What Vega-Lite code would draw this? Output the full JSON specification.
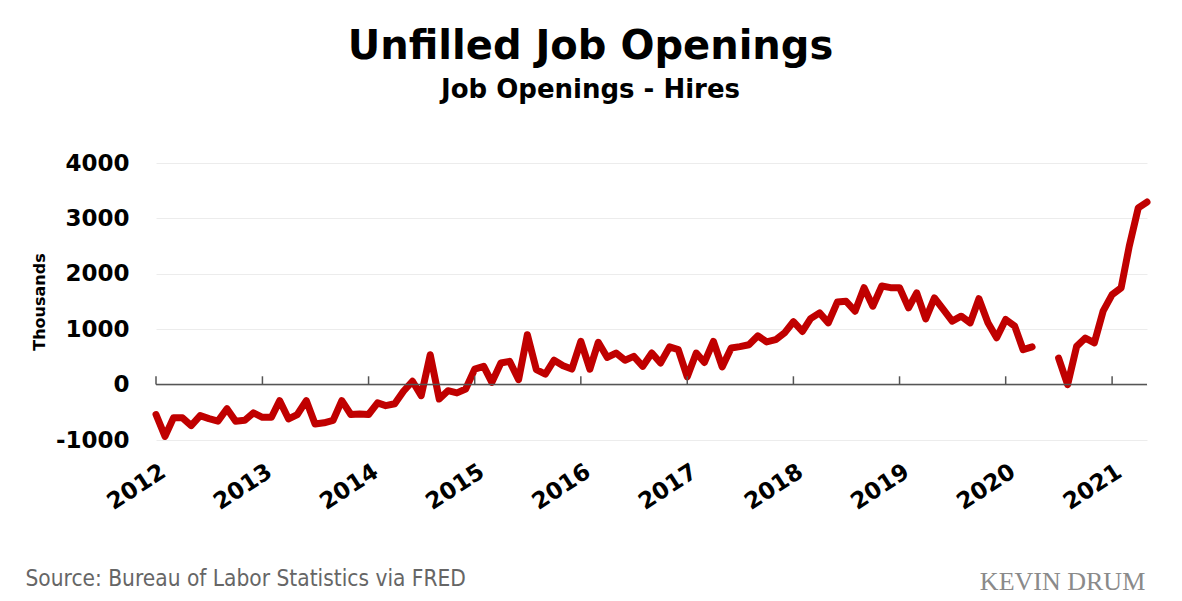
{
  "$schema": "https://vega.github.io/schema/vega-lite/v6.json",
  "width": 991,
  "height": 277,
  "autosize": "none",
  "padding": {"left": 156, "top": 163, "right": 35, "bottom": 161},
  "background": "white",
  "title": {
    "text": "Unfilled Job Openings",
    "subtitle": "Job Openings - Hires",
    "anchor": "middle",
    "dx": -61,
    "offset": 49,
    "font": "DejaVu Sans",
    "fontSize": 40,
    "fontWeight": "bold",
    "color": "#000000",
    "subtitleFont": "DejaVu Sans",
    "subtitleFontSize": 26,
    "subtitleFontWeight": "bold",
    "subtitleColor": "#000000",
    "subtitlePadding": 10
  },
  "datasets": {
    "jobs": [
      {"date": "2012-01-01", "value": -540}, {"date": "2012-02-01", "value": -935}, {"date": "2012-03-01", "value": -600}, {"date": "2012-04-01", "value": -600},
      {"date": "2012-05-01", "value": -740}, {"date": "2012-06-01", "value": -560}, {"date": "2012-07-01", "value": -615}, {"date": "2012-08-01", "value": -660},
      {"date": "2012-09-01", "value": -435}, {"date": "2012-10-01", "value": -660}, {"date": "2012-11-01", "value": -645}, {"date": "2012-12-01", "value": -510},
      {"date": "2013-01-01", "value": -590}, {"date": "2013-02-01", "value": -590}, {"date": "2013-03-01", "value": -290}, {"date": "2013-04-01", "value": -620},
      {"date": "2013-05-01", "value": -540}, {"date": "2013-06-01", "value": -290}, {"date": "2013-07-01", "value": -710}, {"date": "2013-08-01", "value": -690},
      {"date": "2013-09-01", "value": -645}, {"date": "2013-10-01", "value": -290}, {"date": "2013-11-01", "value": -540}, {"date": "2013-12-01", "value": -530},
      {"date": "2014-01-01", "value": -540}, {"date": "2014-02-01", "value": -330}, {"date": "2014-03-01", "value": -380}, {"date": "2014-04-01", "value": -345},
      {"date": "2014-05-01", "value": -120}, {"date": "2014-06-01", "value": 60}, {"date": "2014-07-01", "value": -200}, {"date": "2014-08-01", "value": 540},
      {"date": "2014-09-01", "value": -260}, {"date": "2014-10-01", "value": -110}, {"date": "2014-11-01", "value": -150}, {"date": "2014-12-01", "value": -80},
      {"date": "2015-01-01", "value": 280}, {"date": "2015-02-01", "value": 330}, {"date": "2015-03-01", "value": 40}, {"date": "2015-04-01", "value": 390},
      {"date": "2015-05-01", "value": 420}, {"date": "2015-06-01", "value": 90}, {"date": "2015-07-01", "value": 900}, {"date": "2015-08-01", "value": 270},
      {"date": "2015-09-01", "value": 190}, {"date": "2015-10-01", "value": 440}, {"date": "2015-11-01", "value": 340}, {"date": "2015-12-01", "value": 280},
      {"date": "2016-01-01", "value": 780}, {"date": "2016-02-01", "value": 280}, {"date": "2016-03-01", "value": 765}, {"date": "2016-04-01", "value": 490},
      {"date": "2016-05-01", "value": 570}, {"date": "2016-06-01", "value": 440}, {"date": "2016-07-01", "value": 510}, {"date": "2016-08-01", "value": 330},
      {"date": "2016-09-01", "value": 570}, {"date": "2016-10-01", "value": 390}, {"date": "2016-11-01", "value": 680}, {"date": "2016-12-01", "value": 630},
      {"date": "2017-01-01", "value": 140}, {"date": "2017-02-01", "value": 570}, {"date": "2017-03-01", "value": 400}, {"date": "2017-04-01", "value": 780},
      {"date": "2017-05-01", "value": 320}, {"date": "2017-06-01", "value": 660}, {"date": "2017-07-01", "value": 685}, {"date": "2017-08-01", "value": 720},
      {"date": "2017-09-01", "value": 880}, {"date": "2017-10-01", "value": 770}, {"date": "2017-11-01", "value": 810}, {"date": "2017-12-01", "value": 930},
      {"date": "2018-01-01", "value": 1135}, {"date": "2018-02-01", "value": 960}, {"date": "2018-03-01", "value": 1190}, {"date": "2018-04-01", "value": 1295},
      {"date": "2018-05-01", "value": 1115}, {"date": "2018-06-01", "value": 1490}, {"date": "2018-07-01", "value": 1505}, {"date": "2018-08-01", "value": 1325},
      {"date": "2018-09-01", "value": 1750}, {"date": "2018-10-01", "value": 1415}, {"date": "2018-11-01", "value": 1780}, {"date": "2018-12-01", "value": 1750},
      {"date": "2019-01-01", "value": 1750}, {"date": "2019-02-01", "value": 1385}, {"date": "2019-03-01", "value": 1655}, {"date": "2019-04-01", "value": 1185},
      {"date": "2019-05-01", "value": 1565}, {"date": "2019-06-01", "value": 1355}, {"date": "2019-07-01", "value": 1145}, {"date": "2019-08-01", "value": 1235},
      {"date": "2019-09-01", "value": 1115}, {"date": "2019-10-01", "value": 1550}, {"date": "2019-11-01", "value": 1115}, {"date": "2019-12-01", "value": 845},
      {"date": "2020-01-01", "value": 1175}, {"date": "2020-02-01", "value": 1055}, {"date": "2020-03-01", "value": 630}, {"date": "2020-04-01", "value": 680},
      {"date": "2020-05-01", "value": null}, {"date": "2020-06-01", "value": null}, {"date": "2020-07-01", "value": 480}, {"date": "2020-08-01", "value": 0},
      {"date": "2020-09-01", "value": 690}, {"date": "2020-10-01", "value": 840}, {"date": "2020-11-01", "value": 755}, {"date": "2020-12-01", "value": 1325},
      {"date": "2021-01-01", "value": 1625}, {"date": "2021-02-01", "value": 1745}, {"date": "2021-03-01", "value": 2500}, {"date": "2021-04-01", "value": 3190},
      {"date": "2021-05-01", "value": 3295}
    ],
    "years": [
      {"date": "2012-01-01"}, {"date": "2013-01-01"}, {"date": "2014-01-01"}, {"date": "2015-01-01"}, {"date": "2016-01-01"},
      {"date": "2017-01-01"}, {"date": "2018-01-01"}, {"date": "2019-01-01"}, {"date": "2020-01-01"}, {"date": "2021-01-01"}
    ],
    "logo": [{"date": "2021-04-25", "value": -3700, "label": "KEVIN DRUM"}]
  },
  "encoding": {
    "x": {
      "field": "date",
      "type": "temporal",
      "scale": {"type": "utc", "domain": [{"year": 2012, "month": 1, "date": 1, "utc": true}, {"year": 2021, "month": 5, "date": 1, "utc": true}]},
      "axis": {
        "title": "Source: Bureau of Labor Statistics via FRED",
        "titleFont": "DejaVu Sans Condensed, Liberation Sans Narrow, DejaVu Sans",
        "titleFontSize": 22.5,
        "titleFontWeight": "normal",
        "titleColor": "#666666",
        "titleAnchor": "start",
        "titleAlign": "left",
        "titleBaseline": "alphabetic",
        "titleX": -131,
        "titleY": 145,
        "format": "%Y",
        "tickCount": {"interval": "year", "step": 1},
        "labelAngle": -33,
        "labelFont": "DejaVu Sans",
        "labelFontSize": 23,
        "labelFontWeight": "bold",
        "labelColor": "#000000",
        "labelPadding": 20,
        "labelOffset": 1,
        "labelOverlap": false,
        "labelFlush": false,
        "grid": false,
        "domain": false,
        "ticks": false
      }
    }
  },
  "layer": [
    {
      "data": {"name": "jobs"},
      "mark": {"type": "line", "color": "#c00000", "strokeWidth": 7, "strokeJoin": "round", "strokeCap": "round", "invalid": "break-paths-filter-domains"},
      "encoding": {
        "y": {
          "field": "value",
          "type": "quantitative",
          "scale": {"domain": [-1000, 4000], "nice": false},
          "axis": {
            "title": "Thousands",
            "titleFont": "DejaVu Sans",
            "titleFontSize": 16,
            "titleFontWeight": "bold",
            "titleColor": "#000000",
            "titlePadding": 8,
            "values": [-1000, 0, 1000, 2000, 3000, 4000],
            "labelExpr": "toString(datum.value)",
            "labelFont": "DejaVu Sans",
            "labelFontSize": 23,
            "labelFontWeight": "bold",
            "labelColor": "#000000",
            "labelPadding": 27,
            "grid": true,
            "gridColor": "#ececec",
            "gridWidth": 1,
            "domain": false,
            "ticks": false
          }
        }
      }
    },
    {
      "data": {"name": "years"},
      "mark": {"type": "rule", "color": "#555555", "strokeWidth": 1.5},
      "encoding": {"y": {"datum": 0}, "y2": {"datum": 150}}
    },
    {
      "data": {"values": [{}]},
      "mark": {"type": "rule", "color": "#555555", "strokeWidth": 1.5},
      "encoding": {"x": null, "y": {"datum": 0}}
    },
    {
      "data": {"name": "logo"},
      "mark": {"type": "text", "align": "right", "baseline": "alphabetic", "font": "Liberation Serif", "fontSize": 26, "color": "#8a8a8a"},
      "encoding": {"y": {"field": "value", "type": "quantitative"}, "text": {"field": "label"}}
    }
  ],
  "config": {"view": {"stroke": null}}
}
